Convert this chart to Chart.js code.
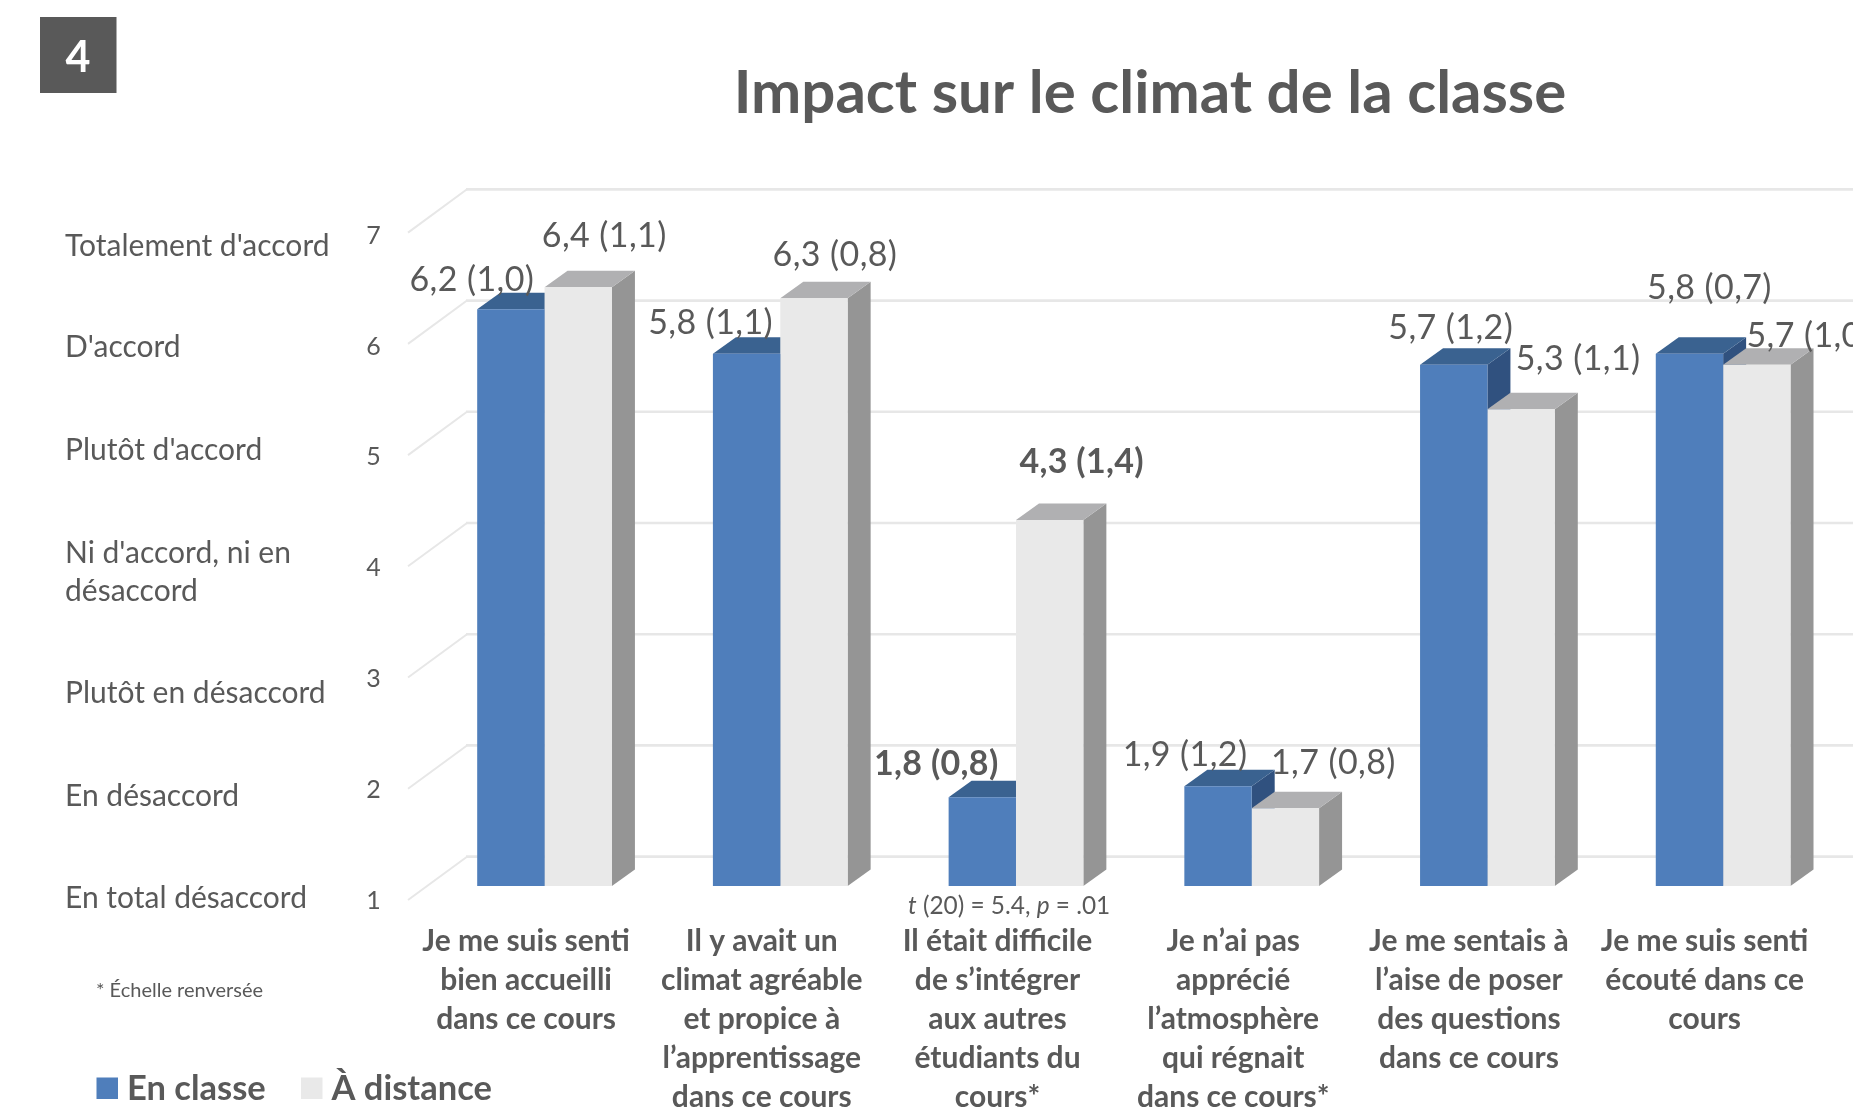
<!DOCTYPE html>
<html lang="fr">
<head>
<meta charset="utf-8">
<title>Impact sur le climat de la classe</title>
<script src="https://cdn.jsdelivr.net/npm/chart.js@4"></script>
<style>
html,body{margin:0;padding:0;background:#fff;overflow:hidden}
canvas{display:block}
</style>
</head>
<body>
<canvas id="c" width="1853" height="1113"></canvas>
<script>
const categories = [
  ["Je me suis senti","bien accueilli","dans ce cours"],
  ["Il y avait un","climat agréable","et propice à","l’apprentissage","dans ce cours"],
  ["Il était difficile","de s’intégrer","aux autres","étudiants du","cours*"],
  ["Je n’ai pas","apprécié","l’atmosphère","qui régnait","dans ce cours*"],
  ["Je me sentais à","l’aise de poser","des questions","dans ce cours"],
  ["Je me suis senti","écouté dans ce","cours"]
];
const enClasse   = [6.2,5.8,1.8,1.9,5.7,5.8];
const aDistance  = [6.4,6.3,4.3,1.7,5.3,5.7];
const sdEnClasse  = ["1,0","1,1","0,8","1,2","1,2","0,7"];
const sdADistance = ["1,1","0,8","1,4","0,8","1,1","1,0"];
const boldCategories = [2];
const scaleTicks = [1,2,3,4,5,6,7];
const scaleLabels = [
  ["Totalement d'accord"],["D'accord"],["Plutôt d'accord"],
  ["Ni d'accord, ni en","désaccord"],["Plutôt en désaccord"],["En désaccord"],["En total désaccord"]
];
const chartTitle = "Impact sur le climat de la classe";
const panelNumber = "4";
const footnote = "* Échelle renversée";
const seriesNames = ["En classe","À distance"];

/* label placement relative to each bar's top (px) */
const shiftEnClasse  = [[-39,-29],[-36,-31],[-46,-33],[-33,-31],[-3,-37],[20,-66]];
const shiftADistance = [[26,-51],[21,-43],[32,-58],[48,-45],[57,-50],[52,-29]];
/* vertical centre of each agreement-scale row (px) */
const scaleRowY = [246,347.5,450,572,693.5,796.5,898];

const FONT = "Lato, Carlito, Calibri, sans-serif";
const TEXT = "#595959";
const faces = [
  {front:"#4F7EBB", top:"#3A6290", side:"#30517F"},
  {front:"#E9E9E9", top:"#B0B0B2", side:"#959595"}
];
const DEPTH_X = 23, DEPTH_Y = 16.5;

function txt(ctx,s,x,y,font,opts={}){
  ctx.save();
  ctx.font = font;
  ctx.fillStyle = opts.color||TEXT;
  ctx.textAlign = opts.align||"left";
  ctx.textBaseline = "middle";
  if(opts.spacing!==undefined) ctx.letterSpacing = opts.spacing+"px";
  ctx.fillText(s,x,y);
  ctx.restore();
}

const wall3d = {
  id:"wall3d",
  beforeDatasetsDraw(chart){
    const {ctx,scales:{y}} = chart;
    const floor=y.getPixelForValue(1);
    ctx.save();
    /* walls + gridlines */
    ctx.strokeStyle="#E7E7E7";
    scaleTicks.forEach(v=>{
      const p=y.getPixelForValue(v);
      const back=floor-29.3-(floor-p)*1.003;
      const front=floor+14-(floor-p)*1.003;
      ctx.lineWidth=2;
      ctx.beginPath();ctx.moveTo(408,front);ctx.lineTo(467,back);ctx.stroke();
      ctx.lineWidth=2.7;
      ctx.beginPath();ctx.moveTo(466,back);ctx.lineTo(chart.width,back);ctx.stroke();
    });
    /* bar depth faces */
    [0,1].forEach(di=>{
      chart.getDatasetMeta(di).data.forEach(b=>{
        const p=b.getProps(["x","y","base","width"],true);
        const l=p.x-p.width/2,r=p.x+p.width/2;
        ctx.fillStyle=faces[di].side;
        ctx.beginPath();
        ctx.moveTo(r,p.y);ctx.lineTo(r+DEPTH_X,p.y-DEPTH_Y);
        ctx.lineTo(r+DEPTH_X,p.base-DEPTH_Y);ctx.lineTo(r,p.base);
        ctx.closePath();ctx.fill();
        ctx.fillStyle=faces[di].top;
        ctx.beginPath();
        ctx.moveTo(l,p.y);ctx.lineTo(l+DEPTH_X,p.y-DEPTH_Y);
        ctx.lineTo(r+DEPTH_X,p.y-DEPTH_Y);ctx.lineTo(r,p.y);
        ctx.closePath();ctx.fill();
      });
    });
    ctx.restore();
  },
  afterDatasetsDraw(chart){
    const {ctx}=chart;
    const sets=[[enClasse,sdEnClasse,shiftEnClasse],[aDistance,sdADistance,shiftADistance]];
    sets.forEach(([vals,sds,shift],di)=>{
      chart.getDatasetMeta(di).data.forEach((b,i)=>{
        const p=b.getProps(["x","y"],true);
        const s=vals[i].toFixed(1).replace(".",",")+" ("+sds[i]+")";
        const bold=boldCategories.includes(i);
        txt(ctx,s,p.x+shift[i][0],p.y+shift[i][1],(bold?"bold ":"")+"34px "+FONT,{align:"center",spacing:bold?0.3:0.4});
      });
    });
  },
  afterDraw(chart){
    const {ctx}=chart;
    /* panel number */
    ctx.fillStyle="#595959";
    ctx.fillRect(40,17,76.5,76);
    txt(ctx,panelNumber,78,58,"bold 43px "+FONT,{align:"center",color:"#FFFFFF"});
    /* title */
    txt(ctx,chartTitle,1150,94,"bold 60px "+FONT,{align:"center"});
    /* agreement scale */
    scaleLabels.forEach((lines,i)=>{
      const cy=scaleRowY[i], gap=38;
      lines.forEach((ln,k)=>{
        txt(ctx,ln,65,cy+(k-(lines.length-1)/2)*gap,"30px "+FONT);
      });
    });
    /* footnote */
    txt(ctx,footnote,96,991,"20px "+FONT);
    /* t-test note */
    let x=908; const y=906, f="24.4px "+FONT, fi="italic 24.4px "+FONT;
    [["t",fi],[" (20) = 5.4, ",f],["p",fi],[" = .01",f]].forEach(([s,fo])=>{
      ctx.font=fo; const w=ctx.measureText(s).width;
      txt(ctx,s,x,y,fo); x+=w;
    });
    /* legend */
    const lg=[[96.5,127],[301,331.5]];
    seriesNames.forEach((n,i)=>{
      ctx.fillStyle=faces[i].front;
      ctx.fillRect(lg[i][0],1077.5,21.5,21.5);
      txt(ctx,n,lg[i][1],1089,"bold 34.5px "+FONT);
    });
  }
};

new Chart(document.getElementById("c"),{
  type:"bar",
  data:{
    labels:categories,
    datasets:[
      {label:seriesNames[0],data:enClasse,backgroundColor:faces[0].front,base:1,borderWidth:0},
      {label:seriesNames[1],data:aDistance,backgroundColor:faces[1].front,base:1,borderWidth:0}
    ]
  },
  plugins:[wall3d],
  options:{
    responsive:false,
    animation:false,
    devicePixelRatio:1,
    layout:{padding:{top:220.6,right:12,left:0,bottom:0}},
    categoryPercentage:0.5716,
    barPercentage:1,
    plugins:{legend:{display:false},title:{display:false},tooltip:{enabled:false}},
    scales:{
      x:{
        offset:true,
        grid:{display:false,drawTicks:false},
        border:{display:false},
        afterFit(s){s.height=227;s.paddingLeft=0;s.paddingRight=0;},
        ticks:{
          autoSkip:false,maxRotation:0,minRotation:0,
          color:TEXT,padding:36,labelOffset:-18.5,
          font:{family:FONT,size:30,weight:"bold",lineHeight:"39px"}
        }
      },
      y:{
        min:1,max:7,
        grid:{display:false,drawTicks:false},
        border:{display:false},
        afterFit(s){s.width=426.7;},
        afterTickToLabelConversion(s){s.ticks=scaleTicks.map(v=>({value:v,label:String(v)}));},
        ticks:{
          stepSize:1,color:TEXT,padding:46,labelOffset:15,
          font:{family:FONT,size:25}
        }
      }
    }
  }
});
</script>
</body>
</html>
